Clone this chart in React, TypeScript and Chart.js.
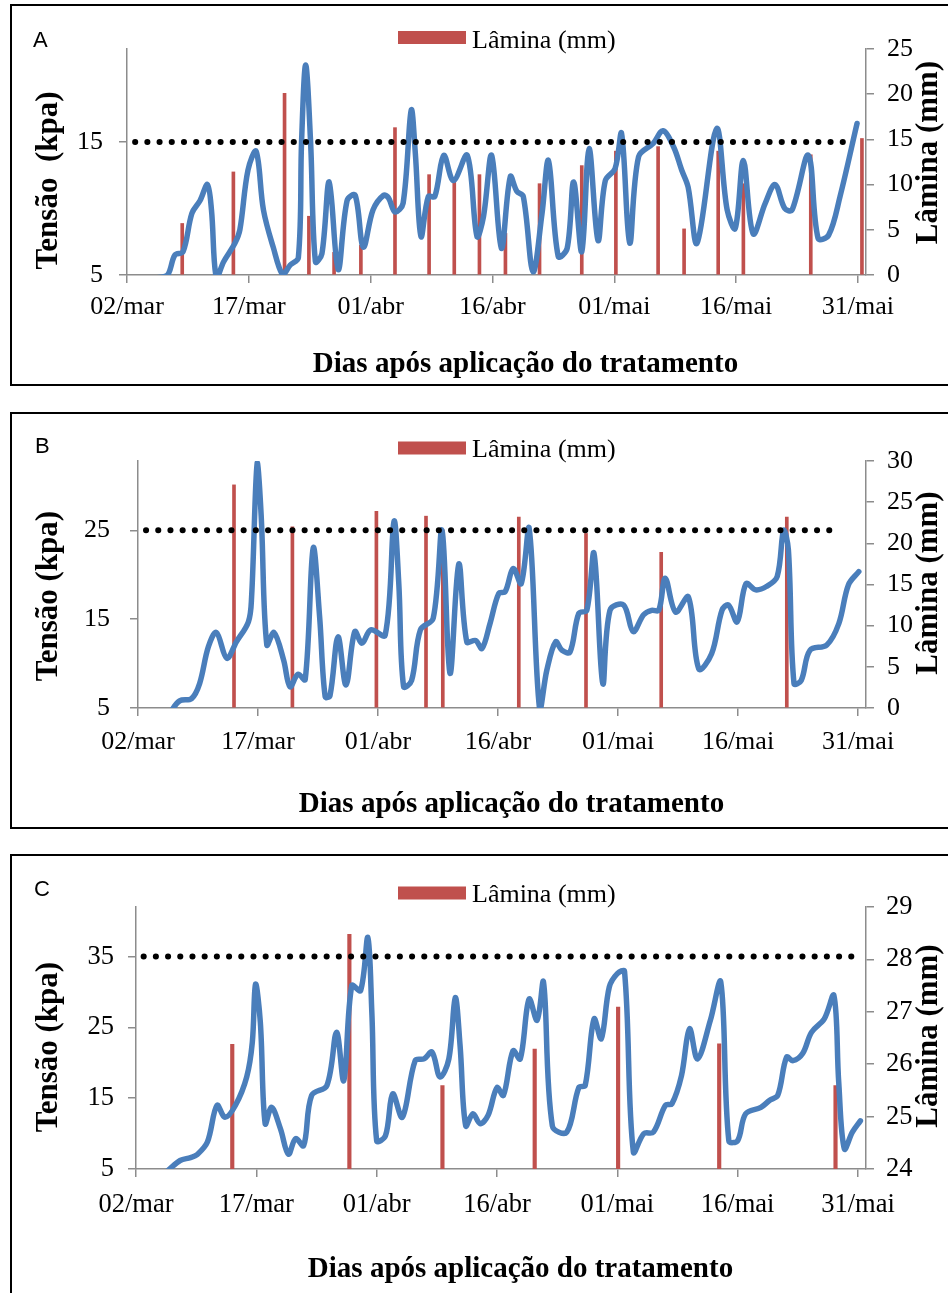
import React, { useEffect, useRef } from "react";
import { Chart, registerables } from "chart.js";

Chart.register(...registerables);

// ---------- shared axis data ----------
const tickDays = [0, 15, 30, 45, 60, 75, 90];
const tickLabels = ["02/mar", "17/mar", "01/abr", "16/abr", "01/mai", "16/mai", "31/mai"];
const xTitle = "Dias após aplicação do tratamento";
const barLabel = "Lâmina (mm)";

// ---------- panel A ----------
const aLineDays = [3.8, 5.0, 5.9, 6.9, 8.0, 9.0, 9.9, 10.4, 11.0, 11.9, 13.3, 13.9, 14.9, 15.9, 16.8, 18.0, 19.2, 20.1, 21.1, 21.5, 22.0, 22.6, 23.2, 24.0, 24.9, 26.0, 27.1, 28.1, 29.1, 30.3, 31.6, 32.2, 33.0, 34.0, 35.0, 35.5, 36.2, 37.1, 37.9, 39.0, 40.2, 41.9, 43.1, 43.9, 44.9, 46.1, 47.2, 48.0, 48.8, 50.0, 51.1, 51.9, 53.1, 54.2, 55.0, 56.0, 56.9, 58.0, 58.9, 60.1, 60.9, 61.9, 63.0, 64.8, 66.0, 67.3, 68.3, 69.1, 70.2, 72.6, 73.9, 74.9, 75.9, 77.1, 78.6, 79.8, 81.0, 81.9, 83.9, 85.1, 86.4, 87.8, 89.9];
const aTensao = [4.8, 5.0, 6.5, 6.75, 9.65, 10.6, 11.8, 9.9, 4.8, 6.0, 7.4, 8.4, 12.9, 14.3, 9.9, 7.1, 5.0, 5.75, 6.3, 15.1, 20.8, 15.1, 6.0, 6.6, 12.0, 5.4, 10.6, 11.0, 7.1, 9.9, 11.0, 10.8, 9.75, 10.4, 17.4, 14.2, 7.9, 10.9, 10.9, 14.0, 12.1, 14.0, 7.9, 9.4, 14.0, 7.0, 12.4, 11.3, 10.9, 5.25, 9.6, 13.6, 6.4, 7.0, 12.0, 6.75, 14.5, 7.6, 12.1, 13.0, 15.65, 7.4, 13.9, 14.9, 15.85, 14.65, 12.9, 11.6, 7.4, 16.0, 9.9, 8.5, 13.6, 8.1, 10.4, 11.8, 10.0, 9.9, 14.0, 7.75, 8.0, 10.9, 16.4];
const aBarDays = [6.8, 13.1, 19.4, 22.4, 25.5, 28.8, 33.0, 37.2, 40.3, 43.4, 46.6, 50.8, 56.0, 60.2, 65.4, 68.6, 72.8, 75.9, 84.2, 90.5];
const aLamina = [5.7, 11.4, 20.1, 6.5, 2.5, 3.3, 16.3, 11.1, 10.7, 11.1, 4.6, 10.1, 12.1, 13.7, 14.2, 5.1, 13.7, 10.1, 13.3, 15.1];
const aLimit = 15;
const aLimitDays = [1.0, 88.5];
const aLeftTicks = [5, 15];
const aRightTicks = [0, 5, 10, 15, 20, 25];

// ---------- panel B ----------
const bLineDays = [4.0, 5.2, 6.7, 7.7, 8.8, 9.8, 11.1, 12.3, 13.8, 14.2, 14.9, 15.4, 16.1, 17.0, 18.2, 19.0, 20.0, 20.9, 21.9, 22.7, 23.4, 24.0, 25.0, 26.0, 27.1, 28.0, 29.1, 30.9, 32.0, 32.6, 33.2, 34.2, 35.3, 36.9, 38.0, 39.0, 40.1, 41.1, 42.2, 43.0, 44.0, 45.1, 45.9, 46.9, 47.9, 48.9, 50.2, 51.1, 52.2, 53.0, 54.0, 55.1, 56.1, 57.0, 58.1, 59.0, 60.7, 61.9, 63.2, 64.2, 65.1, 65.9, 67.2, 68.8, 70.1, 71.7, 73.0, 73.8, 74.9, 76.0, 77.2, 78.6, 79.9, 80.7, 81.3, 82.0, 82.9, 84.0, 86.1, 87.6, 88.8, 90.1];
const bTensao = [4.5, 5.8, 6.06, 7.75, 11.9, 13.5, 10.6, 12.45, 14.7, 17.5, 32.6, 26.6, 12.1, 13.5, 10.4, 7.4, 8.8, 8.2, 23.0, 15.3, 6.24, 6.4, 13.0, 7.6, 13.6, 12.3, 13.8, 13.2, 26.0, 19.0, 7.4, 8.1, 13.8, 15.1, 25.0, 8.9, 21.2, 12.45, 12.6, 11.7, 14.5, 17.9, 18.1, 20.7, 19.0, 25.2, 4.9, 9.25, 12.45, 11.5, 11.3, 15.65, 16.0, 22.4, 7.75, 16.0, 16.6, 13.6, 15.5, 16.0, 16.0, 19.6, 15.8, 17.5, 9.4, 11.1, 16.0, 16.6, 14.7, 19.0, 18.3, 18.7, 19.8, 25.0, 22.8, 7.75, 8.1, 11.5, 12.1, 14.5, 18.85, 20.35];
const bBarDays = [12.0, 19.3, 29.8, 36.0, 38.1, 47.6, 56.0, 65.4, 81.1];
const bLamina = [27.1, 22.0, 23.9, 23.3, 21.6, 23.2, 21.2, 18.9, 23.2];
const bLimit = 25;
const bLimitDays = [1.0, 86.6];
const bLeftTicks = [5, 15, 25];
const bRightTicks = [0, 5, 10, 15, 20, 25, 30];

// ---------- panel C ----------
const cLineDays = [4.0, 5.5, 6.8, 7.6, 8.9, 10.1, 11.1, 12.4, 13.8, 14.5, 14.9, 15.5, 16.1, 16.9, 18.0, 19.0, 19.9, 20.9, 21.9, 23.8, 25.0, 25.9, 26.9, 28.0, 28.9, 29.4, 30.0, 31.1, 32.0, 33.2, 34.8, 35.9, 36.9, 37.9, 39.0, 39.8, 40.4, 41.1, 42.0, 42.9, 43.9, 45.0, 45.8, 47.0, 47.9, 49.0, 50.0, 50.8, 51.9, 53.7, 55.2, 56.0, 57.1, 58.0, 59.0, 60.0, 60.9, 62.0, 63.3, 64.5, 66.0, 66.8, 68.0, 69.0, 70.0, 71.6, 72.9, 73.9, 75.0, 76.0, 77.9, 79.0, 80.0, 81.1, 81.9, 83.1, 84.2, 85.8, 87.0, 87.6, 88.3, 89.3, 90.3];
const cTensao = [4.8, 6.2, 6.6, 7.0, 8.8, 14.0, 12.3, 14.0, 18.0, 22.9, 31.1, 25.7, 11.4, 13.7, 10.7, 7.1, 9.3, 8.3, 15.4, 16.8, 24.3, 17.5, 30.9, 30.2, 37.7, 27.1, 9.0, 9.7, 15.6, 12.3, 20.3, 20.55, 21.5, 18.0, 20.55, 29.2, 22.4, 11.1, 12.8, 11.4, 12.6, 16.5, 15.4, 21.7, 20.55, 29.0, 26.0, 31.4, 11.1, 10.2, 16.5, 16.8, 26.2, 23.4, 30.7, 32.6, 32.9, 7.4, 10.0, 10.2, 14.0, 14.2, 18.2, 24.8, 20.55, 26.0, 31.4, 9.0, 9.0, 12.8, 13.7, 14.7, 15.4, 20.8, 20.3, 21.3, 24.3, 26.2, 29.5, 17.25, 7.85, 10.2, 11.8];
const cBarDays = [12.0, 26.6, 38.2, 49.7, 60.1, 72.7, 87.2];
const cLamina = [26.38, 28.48, 25.59, 26.29, 27.09, 26.39, 25.59];
const cLimit = 35;
const cLimitDays = [0.95, 89.3];
const cLeftTicks = [5, 15, 25, 35];
const cRightTicks = [24, 25, 26, 27, 28, 29];

const BLUE = "#4A7EBB";
const RED = "#C0504D";
const GRAY = "#8C8C8C";
const SERIF = '"Liberation Serif", "Times New Roman", serif';

type Panel = {
  letter: string;
  canvasTop: number;
  height: number;
  padTop: number;
  leftW: number;
  rightW: number;
  bottomH: number;
  lineDays: number[];
  tensao: number[];
  barDays: number[];
  lamina: number[];
  limit: number;
  limitDays: number[];
  leftMin: number;
  leftMax: number;
  leftTicks: number[];
  rightMin: number;
  rightMax: number;
  rightTicks: number[];
  tickFont: number;
  xPad: number;
  yPad: number;
  y2Pad: number;
  barThickness: number;
  leftTitle: string;
  letterX: number;
  letterY: number;
  legendRectY: number;
  legendTextY: number;
  leftTitleY: number;
  rightTitleY: number;
  xTitleX: number;
  xTitleY: number;
};

const panels: Panel[] = [
  {
    letter: "A", canvasTop: 0, height: 400, padTop: 49, leftW: 127, rightW: 82, bottomH: 125,
    lineDays: aLineDays, tensao: aTensao, barDays: aBarDays, lamina: aLamina,
    limit: aLimit, limitDays: aLimitDays,
    leftMin: 5, leftMax: 22, leftTicks: aLeftTicks, rightMin: 0, rightMax: 25, rightTicks: aRightTicks,
    tickFont: 26, xPad: 9, yPad: 16, y2Pad: 13, barThickness: 3,
    leftTitle: "Tensão  (kpa)",
    letterX: 33, letterY: 47, legendRectY: 31, legendTextY: 47.5,
    leftTitleY: 180.5, rightTitleY: 152.5, xTitleX: 525.5, xTitleY: 371.5,
  },
  {
    letter: "B", canvasTop: 400, height: 440, padTop: 61, leftW: 138, rightW: 82, bottomH: 132,
    lineDays: bLineDays, tensao: bTensao, barDays: bBarDays, lamina: bLamina,
    limit: bLimit, limitDays: bLimitDays,
    leftMin: 5, leftMax: 32.8, leftTicks: bLeftTicks, rightMin: 0, rightMax: 30, rightTicks: bRightTicks,
    tickFont: 26, xPad: 11, yPad: 20, y2Pad: 13, barThickness: 3,
    leftTitle: "Tensão (kpa)",
    letterX: 35, letterY: 52.5, legendRectY: 41.5, legendTextY: 57,
    leftTitleY: 196, rightTitleY: 183, xTitleX: 511.5, xTitleY: 411.5,
  },
  {
    letter: "C", canvasTop: 840, height: 453, padTop: 67, leftW: 136, rightW: 82, bottomH: 124,
    lineDays: cLineDays, tensao: cTensao, barDays: cBarDays, lamina: cLamina,
    limit: cLimit, limitDays: cLimitDays,
    leftMin: 5, leftMax: 42, leftTicks: cLeftTicks, rightMin: 24, rightMax: 29, rightTicks: cRightTicks,
    tickFont: 26.5, xPad: 12, yPad: 14, y2Pad: 12, barThickness: 3.5,
    leftTitle: "Tensão (kpa)",
    letterX: 34, letterY: 55.5, legendRectY: 46.5, legendTextY: 62,
    leftTitleY: 207, rightTitleY: 196, xTitleX: 520.5, xTitleY: 436.5,
  },
];

function pts(xs: number[], ys: number[]) {
  const n = Math.min(xs.length, ys.length);
  const out: { x: number; y: number }[] = [];
  for (let i = 0; i < n; i++) out.push({ x: xs[i], y: ys[i] });
  return out;
}

function ChartPanel({ p }: { p: Panel }) {
  const ref = useRef<HTMLCanvasElement | null>(null);

  useEffect(() => {
    if (!ref.current) return;
    const textPlugin = {
      id: "panelText" + p.letter,
      afterDraw(chart: any) {
        const ctx = chart.ctx as CanvasRenderingContext2D;
        ctx.save();
        ctx.fillStyle = "#000";
        ctx.textBaseline = "alphabetic";
        ctx.textAlign = "left";
        ctx.font = '22px "Liberation Sans", Arial, sans-serif';
        ctx.fillText(p.letter, p.letterX, p.letterY);

        ctx.fillStyle = RED;
        ctx.fillRect(398, p.legendRectY, 68, 13);
        ctx.fillStyle = "#000";
        ctx.font = "26px " + SERIF;
        ctx.fillText(barLabel, 472, p.legendTextY);

        ctx.font = "bold 29px " + SERIF;
        ctx.textAlign = "center";
        ctx.fillText(xTitle, p.xTitleX, p.xTitleY);

        ctx.font = "bold 31px " + SERIF;
        ctx.save();
        ctx.translate(57, p.leftTitleY);
        ctx.rotate(-Math.PI / 2);
        ctx.fillText(p.leftTitle, 0, 0);
        ctx.restore();

        ctx.save();
        ctx.translate(937, p.rightTitleY);
        ctx.rotate(-Math.PI / 2);
        ctx.fillText(barLabel, 0, 0);
        ctx.restore();
        ctx.restore();
      },
    };

    const tickFont = { family: SERIF, size: p.tickFont };
    const chart = new Chart(ref.current, {
      type: "bar",
      data: {
        datasets: [
          {
            type: "line",
            label: "Limite",
            data: pts(p.limitDays, [p.limit, p.limit]),
            yAxisID: "y",
            borderColor: "#000",
            borderWidth: 6,
            borderDash: [0.1, 12.1],
            borderCapStyle: "round",
            pointRadius: 0,
            fill: false,
            order: 0,
          } as any,
          {
            type: "line",
            label: "Tensão (kpa)",
            data: pts(p.lineDays, p.tensao),
            yAxisID: "y",
            borderColor: BLUE,
            borderWidth: 5.5,
            borderJoinStyle: "round",
            borderCapStyle: "round",
            pointRadius: 0,
            tension: 0.35,
            fill: false,
            order: 1,
          } as any,
          {
            type: "bar",
            label: barLabel,
            data: pts(p.barDays, p.lamina),
            yAxisID: "y2",
            backgroundColor: RED,
            barThickness: p.barThickness,
            order: 2,
          } as any,
        ],
      },
      options: {
        responsive: false,
        animation: false,
        events: [],
        layout: { padding: { top: p.padTop, left: 0, right: 0, bottom: 0 } },
        plugins: { legend: { display: false }, tooltip: { enabled: false } },
        scales: {
          x: {
            type: "linear",
            min: 0,
            max: 91,
            offset: false,
            bounds: "data",
            afterFit: (s: any) => { s.height = p.bottomH; },
            afterBuildTicks: (s: any) => { s.ticks = tickDays.map((v) => ({ value: v })); },
            ticks: {
              autoSkip: false,
              maxRotation: 0,
              minRotation: 0,
              font: tickFont,
              color: "#000",
              padding: p.xPad,
              callback: (v: any) => tickLabels[tickDays.indexOf(Number(v))] ?? "",
            },
            grid: { display: true, drawOnChartArea: false, drawTicks: true, tickLength: 8, color: GRAY, lineWidth: 1.5, offset: false },
            border: { display: true, color: GRAY, width: 1.5 },
          },
          y: {
            type: "linear",
            position: "left",
            min: p.leftMin,
            max: p.leftMax,
            bounds: "data",
            afterFit: (s: any) => { s.width = p.leftW; },
            afterBuildTicks: (s: any) => { s.ticks = p.leftTicks.map((v) => ({ value: v })); },
            ticks: { font: tickFont, color: "#000", padding: p.yPad, callback: (v: any) => String(v) },
            grid: { display: true, drawOnChartArea: false, drawTicks: true, tickLength: 8, color: GRAY, lineWidth: 1.5 },
            border: { display: true, color: GRAY, width: 1.5 },
          },
          y2: {
            type: "linear",
            position: "right",
            min: p.rightMin,
            max: p.rightMax,
            bounds: "data",
            afterFit: (s: any) => { s.width = p.rightW; },
            afterBuildTicks: (s: any) => { s.ticks = p.rightTicks.map((v) => ({ value: v })); },
            ticks: { font: tickFont, color: "#000", padding: p.y2Pad, callback: (v: any) => String(v) },
            grid: { display: true, drawOnChartArea: false, drawTicks: true, tickLength: 8, color: GRAY, lineWidth: 1.5 },
            border: { display: true, color: GRAY, width: 1.5 },
          },
        },
      } as any,
      plugins: [textPlugin],
    });
    return () => chart.destroy();
  }, [p]);

  return (
    <canvas
      ref={ref}
      width={948}
      height={p.height}
      style={{ position: "absolute", left: 0, top: p.canvasTop, width: 948, height: p.height }}
    />
  );
}

const frames = [
  { top: 4, height: 378 },
  { top: 412, height: 413 },
  { top: 854, height: 500 },
];

export default function App() {
  return (
    <div
      style={{
        position: "absolute",
        left: 0,
        top: 0,
        width: 948,
        height: 1293,
        overflow: "hidden",
        background: "#fff",
      }}
    >
      {panels.map((p) => (
        <ChartPanel key={p.letter} p={p} />
      ))}
      {frames.map((f, i) => (
        <div
          key={i}
          style={{
            position: "absolute",
            left: 10,
            top: f.top,
            width: 1000,
            height: f.height,
            border: "2px solid #000",
            pointerEvents: "none",
          }}
        />
      ))}
    </div>
  );
}
